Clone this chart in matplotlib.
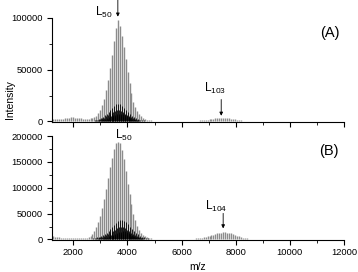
import numpy as np
import matplotlib.pyplot as plt
from matplotlib.ticker import MultipleLocator

plt.rcParams['font.family'] = ['Liberation Sans', 'DejaVu Sans']
plt.rcParams['mathtext.fontset'] = 'custom'
plt.rcParams['mathtext.rm'] = 'Liberation Sans'
plt.rcParams['mathtext.it'] = 'Liberation Sans'

# degree of polymerisation (lactide units) for the main series
dp_main = np.arange(17, 121)
# main series intensities, panel A and panel B
top_main = [2500, 2600, 2500, 2400, 2600, 2800, 3200, 3600, 3800, 4000,
            3900, 3700, 3400, 3100, 2900, 2800, 2700, 2700, 2800, 3000,
            3200, 4000, 5500, 8000, 11500, 16000, 22000, 30000, 40000, 52000,
            64000, 78000, 90000, 98000, 92000, 82000, 72000, 60000, 48000, 37000,
            27000, 19000, 14000, 10000, 7000, 5000, 3500, 2500, 1800, 1400,
            1100, 900, 800, 700, 600, 600, 500, 500, 500, 500,
            500, 500, 500, 500, 500, 500, 500, 500, 500, 500,
            500, 600, 700, 800, 900, 1000, 1200, 1400, 1600, 1800,
            2100, 2400, 2700, 3000, 3200, 3400, 3500, 3500, 3400, 3200,
            3000, 2700, 2400, 2000, 1700, 1400, 1100, 800, 600, 400,
            300, 200, 150, 100]
bottom_main = [6000, 5200, 4600, 4100, 3700, 3400, 3200, 3000, 2900, 2800,
               2700, 2700, 2600, 2600, 2600, 2700, 3000, 3500, 4500, 6500,
               10000, 16000, 24000, 33000, 46000, 60000, 78000, 97000, 118000, 140000,
               158000, 174000, 186000, 189000, 186000, 172000, 155000, 132000, 108000, 88000,
               68000, 50000, 38000, 27000, 19000, 13000, 9000, 6000, 4000, 3000,
               2200, 1800, 1500, 1300, 1200, 1100, 1000, 1000, 1000, 1000,
               1000, 1000, 1000, 1000, 1000, 1000, 1000, 1100, 1200, 1300,
               1400, 1500, 1700, 2000, 2400, 2800, 3500, 4300, 5200, 6200,
               7200, 8300, 9400, 10500, 11600, 12600, 13400, 14000, 14000, 13400,
               12600, 11600, 10400, 9000, 7600, 6200, 4900, 3800, 2800, 2000,
               1400, 1000, 800, 600]

# side series around L50 (other end groups / adducts)
dp_side = np.arange(36, 67)
side_offsets = [16, -18, 34, 54]
top_side = [
    [500, 800, 1200, 1800, 2500, 3500, 4500, 6000, 7500, 9000, 11000, 13000, 15000, 16500, 17000, 16500,
     15000, 13000, 11000, 9000, 7000, 5500, 4200, 3200, 2400, 1800, 1300, 1000, 700, 500, 400],
    [300, 500, 800, 1100, 1600, 2200, 2900, 3800, 4800, 5900, 7100, 8300, 9500, 10500, 11000, 10800,
     10000, 8800, 7500, 6200, 5000, 3900, 3000, 2200, 1600, 1200, 900, 600, 400, 300, 200],
    [300, 400, 600, 800, 1100, 1500, 2000, 2600, 3300, 4100, 4900, 5800, 6600, 7200, 7500, 7400,
     6900, 6200, 5300, 4400, 3500, 2700, 2000, 1500, 1100, 800, 600, 400, 300, 200, 150],
    [200, 300, 400, 600, 800, 1100, 1400, 1800, 2300, 2800, 3300, 3900, 4400, 4800, 5000, 4900,
     4600, 4100, 3500, 2900, 2300, 1800, 1400, 1000, 700, 500, 400, 300, 200, 150, 100],
]
bottom_side = [
    [1500, 2200, 3000, 4000, 5200, 6700, 8500, 10600, 13000, 16000, 19500, 23500, 27500, 31500, 35000, 37500,
     38000, 36500, 33500, 29500, 25000, 20500, 16500, 13000, 10000, 7500, 5500, 4000, 2800, 2000, 1400],
    [1000, 1400, 1900, 2500, 3300, 4200, 5300, 6600, 8100, 9900, 12000, 14300, 16800, 19200, 21500, 23200,
     24000, 23400, 21600, 19000, 16200, 13300, 10600, 8300, 6400, 4800, 3500, 2500, 1800, 1300, 900],
    [700, 1000, 1300, 1700, 2200, 2800, 3500, 4400, 5400, 6600, 8000, 9500, 11100, 12700, 14200, 15400,
     16000, 15600, 14400, 12700, 10800, 8900, 7100, 5500, 4200, 3100, 2300, 1700, 1200, 800, 600],
    [500, 700, 900, 1200, 1500, 1900, 2400, 3000, 3700, 4500, 5500, 6500, 7600, 8700, 9700, 10500,
     11000, 10700, 9900, 8700, 7400, 6100, 4900, 3800, 2900, 2100, 1600, 1100, 800, 600, 400],
]

unit = 72.06      # lactide repeat unit
end_group = 41.0  # H2O + Na+


def mz(n, off=0.0):
    return n * unit + end_group + off


fig = plt.figure(figsize=(3.58, 2.72), dpi=100)
ax1 = fig.add_axes([0.1444, 0.5515, 0.8165, 0.3834])
ax2 = fig.add_axes([0.1444, 0.1176, 0.8165, 0.3824])

for ax, main, side in [(ax1, top_main, top_side), (ax2, bottom_main, bottom_side)]:
    ax.vlines(mz(dp_main), 0, main, color='0.55', lw=1.0)
    for off, vals in zip(side_offsets, side):
        ax.vlines(mz(dp_side, off), 0, vals, color='k', lw=0.6)
    ax.set_xlim(1200, 12000)
    ax.spines['top'].set_visible(False)
    ax.spines['right'].set_visible(False)
    for s in ['left', 'bottom']:
        ax.spines[s].set_linewidth(0.8)
    ax.xaxis.set_major_locator(MultipleLocator(2000))
    ax.xaxis.set_minor_locator(MultipleLocator(1000))
    ax.yaxis.set_minor_locator(MultipleLocator(25000))
    ax.tick_params(which='major', direction='out', length=3.5, width=0.8, labelsize=6.7)
    ax.tick_params(which='minor', direction='out', length=2, width=0.6)
    ax.tick_params(axis='x', pad=2.2)
    ax.tick_params(axis='y', pad=2.8)

ax1.set_ylim(-500, 100000)
ax1.yaxis.set_major_locator(MultipleLocator(50000))
ax1.tick_params(labelbottom=False)
ax2.set_ylim(-1000, 200000)
ax2.yaxis.set_major_locator(MultipleLocator(50000))

arrow = dict(arrowstyle='-|>', lw=0.6, color='k', mutation_scale=5, shrinkA=0, shrinkB=0)

ax1.text(3130, 104900, 'L$_{50}$', fontsize=8.5, ha='center', va='center')
ax1.annotate('', xy=(mz(50), 101000), xytext=(mz(50), 117000), arrowprops=arrow, annotation_clip=False)
ax1.text(7233, 32300, 'L$_{103}$', fontsize=8.5, ha='center', va='center')
ax1.annotate('', xy=(mz(103), 5500), xytext=(mz(103), 21200), arrowprops=arrow)
ax1.text(0.95, 0.85, '(A)', transform=ax1.transAxes, fontsize=10.5, ha='center', va='center')

ax2.text(3868, 202000, 'L$_{50}$', fontsize=8.5, ha='center', va='center')
ax2.text(7263, 64000, 'L$_{104}$', fontsize=8.5, ha='center', va='center')
ax2.annotate('', xy=(mz(104), 21400), xytext=(mz(104), 50500), arrowprops=arrow)
ax2.text(0.947, 0.851, '(B)', transform=ax2.transAxes, fontsize=10.5, ha='center', va='center')

ax2.set_xlabel('m/z', fontsize=7.5, labelpad=4)
fig.text(10 / 358, 1 - 100 / 272, 'Intensity', rotation=90, fontsize=7.5, ha='center', va='center')

plt.savefig('out.png', dpi=100)
